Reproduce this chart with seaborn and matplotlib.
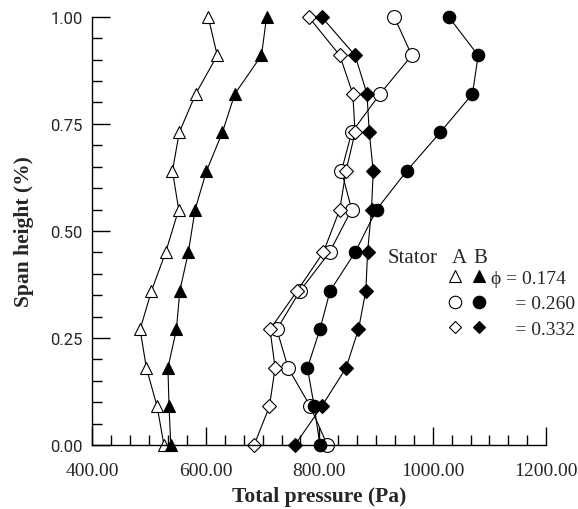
import pandas as pd
import seaborn as sns
import matplotlib.pyplot as plt
from matplotlib.lines import Line2D
from matplotlib.ticker import MultipleLocator, FormatStrFormatter

# span height positions (fraction of span)
span = [0.00, 0.09, 0.18, 0.27, 0.36, 0.45, 0.55, 0.64, 0.73, 0.82, 0.91, 1.00]

# total pressure (Pa), stator A (open) and stator B (filled)
a_0174 = [526, 514, 495, 484, 504, 529, 552, 541, 553, 582, 620, 604]
b_0174 = [538, 535, 533, 548, 554, 569, 581, 601, 629, 651, 698, 707]
a_0260 = [814, 784, 745, 725, 766, 818, 857, 839, 857, 907, 963, 932]
b_0260 = [801, 791, 779, 801, 819, 863, 901, 954, 1013, 1070, 1080, 1028]
a_0332 = [685, 712, 722, 713, 761, 807, 836, 847, 863, 859, 836, 781]
b_0332 = [757, 804, 847, 869, 882, 885, 892, 895, 888, 884, 863, 804]

phi_labels = ["0.174", "0.260", "0.332"]

rows = []
for stator, series in [("A", [a_0174, a_0260, a_0332]), ("B", [b_0174, b_0260, b_0332])]:
    for phi, vals in zip(phi_labels, series):
        for s, p in zip(span, vals):
            rows.append({"stator": stator, "phi": phi, "span": s, "pressure": p})
df = pd.DataFrame(rows)

sns.set_style("ticks")
serif = ["Liberation Serif", "DejaVu Serif"]
plt.rcParams["font.family"] = serif

markers = {"0.174": "^", "0.260": "o", "0.332": "D"}
sizes = {"0.174": 9, "0.260": 10, "0.332": 7}

fig = plt.figure(figsize=(5.78, 5.10), dpi=100)
ax = fig.add_axes([0.160, 0.1255, 0.785, 0.8395])

for (stator, phi), g in df.groupby(["stator", "phi"]):
    ms = sizes[phi] if stator == "A" or phi != "0.260" else sizes[phi] - 1
    sns.lineplot(data=g, x="pressure", y="span", sort=False, estimator=None,
                 color="black", lw=0.8, marker=markers[phi], ms=ms,
                 mfc="white" if stator == "A" else "black", mec="black", mew=0.8,
                 clip_on=False, ax=ax)

ax.set_xlim(400, 1200)
ax.set_ylim(0, 1)
ax.xaxis.set_major_locator(MultipleLocator(200))
ax.xaxis.set_minor_locator(MultipleLocator(200 / 6))
ax.yaxis.set_major_locator(MultipleLocator(0.25))
ax.yaxis.set_minor_locator(MultipleLocator(0.05))
ax.xaxis.set_major_formatter(FormatStrFormatter("%.2f"))
ax.yaxis.set_major_formatter(FormatStrFormatter("%.2f"))
ax.tick_params(which="both", direction="in", color="black", width=1)
ax.tick_params(which="major", length=13)
ax.tick_params(which="minor", length=7)
ax.tick_params(axis="x", pad=12, labelsize=14)
ax.tick_params(axis="y", pad=7, labelsize=12)
for lab in ax.get_yticklabels():
    lab.set_fontfamily(["Roboto", "DejaVu Sans"])
sns.despine(ax=ax)
for sp in ["left", "bottom"]:
    ax.spines[sp].set_color("black")
    ax.spines[sp].set_linewidth(1)

ax.set_xlabel("Total pressure (Pa)", fontsize=15.5, fontweight="bold", labelpad=5)
ax.set_ylabel("Span height (%)", fontsize=15.5, fontweight="bold", labelpad=12)

# legend: open (A) column, filled (B) column
handles = []
for fill in ["white", "black"]:
    for phi in phi_labels:
        handles.append(Line2D([], [], ls="none", marker=markers[phi], ms=sizes[phi] - 1,
                              mfc=fill, mec="black", mew=0.8))
labels = ["", "", "", "\u03d5 = " + phi_labels[0], "     = " + phi_labels[1], "     = " + phi_labels[2]]
ax.legend(handles, labels, ncol=2, frameon=False, loc="upper left",
          bbox_to_anchor=(0.764, 0.433), fontsize=14, handlelength=0.65,
          handletextpad=0.3, columnspacing=0.25, labelspacing=0.4, borderpad=0)
ax.text(0.651, 0.438, "Stator", transform=ax.transAxes, fontsize=15, va="center", ha="left")
ax.text(0.808, 0.438, "A", transform=ax.transAxes, fontsize=15, va="center", ha="center")
ax.text(0.855, 0.438, "B", transform=ax.transAxes, fontsize=15, va="center", ha="center")

fig.savefig("out.png", dpi=100)
